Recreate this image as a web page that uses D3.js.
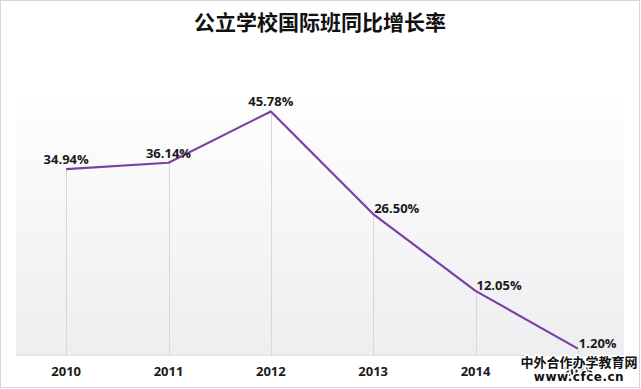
<!DOCTYPE html>
<html>
<head>
<meta charset="utf-8">
<script src="https://cdn.jsdelivr.net/npm/d3@7"></script>
<style>
	html, body { margin: 0; padding: 0; background: #fff; }
	svg text { font-family: "Noto Sans CJK SC", "DejaVu Sans", sans-serif; }
	.label, .tick-label { font-family: "Open Sans", "DejaVu Sans", sans-serif; font-weight: bold; fill: #1a1a1a; }
</style>
</head>
<body>
<div id="chart"></div>
<script>
let years	= ['2010', '2011', '2012', '2013', '2014', '2015'];
let growth	= [34.94, 36.14, 45.78, 26.50, 12.05, 1.20];
let title	= '公立学校国际班同比增长率';

let canvasWidth		= 641;
let canvasHeight	= 389;

let plot	= { left: 15, right: 629, top: 95, bottom: 355 };

let x	= d3.scaleBand().domain(years).range([plot.left, plot.right]);
let y	= d3.scaleLinear().domain([0, 50]).range([plot.bottom, 89]);

let svg = d3.select('#chart').append('svg')
	.attr('width', canvasWidth)
	.attr('height', canvasHeight);

let defs = svg.append('defs');
let grad = defs.append('linearGradient')
	.attr('id', 'bg-grad')
	.attr('x1', 0).attr('y1', 0).attr('x2', 0).attr('y2', 1);
grad.append('stop').attr('offset', '0%').attr('stop-color', '#fefefe');
grad.append('stop').attr('offset', '100%').attr('stop-color', '#eeeef1');

// outer frame
svg.append('rect')
	.attr('x', 0.5).attr('y', 0.5)
	.attr('width', canvasWidth - 2).attr('height', canvasHeight - 2)
	.attr('fill', '#fff')
	.attr('stroke', '#d6d6d6');

svg.append('rect')
	.attr('x', 16).attr('y', plot.top)
	.attr('width', 608).attr('height', plot.bottom - plot.top)
	.attr('fill', 'url(#bg-grad)');

svg.append('line')
	.attr('x1', 16).attr('x2', 624)
	.attr('y1', plot.bottom + 0.5).attr('y2', plot.bottom + 0.5)
	.attr('stroke', '#e4e4e6');

svg.append('text')
	.attr('x', 320).attr('y', 30)
	.attr('text-anchor', 'middle')
	.style('font-size', '21px')
	.style('font-weight', 'bold')
	.style('fill', '#111')
	.text(title);

let cx = (d) => x(d) + x.bandwidth() / 2;

// drop lines
svg.append('g')
	.selectAll('line')
	.data(years)
	.enter().append('line')
		.attr('x1', (d) => Math.round(cx(d)) + 0.5)
		.attr('x2', (d) => Math.round(cx(d)) + 0.5)
		.attr('y1', (d, i) => y(growth[i]))
		.attr('y2', plot.bottom)
		.attr('stroke', '#d8d8da')
		.attr('stroke-width', 1);

let line = d3.line()
	.x((d, i) => cx(years[i]))
	.y((d) => y(d));

svg.append('path')
	.datum(growth)
	.attr('d', line)
	.attr('fill', 'none')
	.attr('stroke', '#7a3fa6')
	.attr('stroke-width', 2.2)
	.attr('stroke-linejoin', 'round');

// data labels: first three above the point, the rest to the right
svg.append('g')
	.selectAll('text')
	.data(growth)
	.enter().append('text')
		.attr('class', 'label')
		.style('font-size', '13px')
		.attr('text-anchor', (d, i) => i < 3 ? 'middle' : 'start')
		.attr('x', (d, i) => i < 3 ? cx(years[i]) : cx(years[i]) + 1)
		.attr('y', (d, i) => i < 3 ? y(d) - 5 : y(d) - 1)
		.text((d) => d.toFixed(2) + '%');

svg.append('g')
	.selectAll('text')
	.data(years)
	.enter().append('text')
		.attr('class', 'tick-label')
		.style('font-size', '13px')
		.attr('text-anchor', 'middle')
		.attr('x', (d) => cx(d))
		.attr('y', 376)
		.text((d) => d);

// watermark
let wm = svg.append('g').attr('text-anchor', 'middle');
wm.append('text')
	.attr('x', 579).attr('y', 367)
	.style('font-size', '13px')
	.style('font-weight', 'bold')
	.style('fill', '#111')
	.style('stroke', '#fff')
	.style('stroke-width', 3)
	.style('paint-order', 'stroke')
	.text('中外合作办学教育网');
wm.append('text')
	.attr('x', 579).attr('y', 381)
	.style('font-family', '"DejaVu Sans", sans-serif')
	.style('font-size', '12px')
	.style('font-weight', 'bold')
	.style('letter-spacing', '0.5px')
	.style('fill', '#111')
	.style('stroke', '#fff')
	.style('stroke-width', 3)
	.style('paint-order', 'stroke')
	.text('www.cfce.cn');
</script>
</body>
</html>
